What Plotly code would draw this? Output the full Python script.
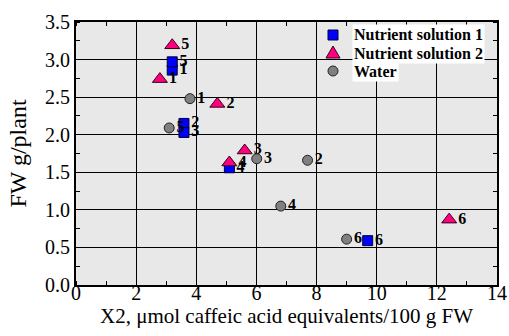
import plotly.graph_objects as go

# Nutrient solution 1
ns1_x = [3.20, 3.59, 3.59, 5.10, 3.20, 9.70]
ns1_y = [2.86, 2.15, 2.03, 1.56, 2.97, 0.59]
ns1_lab = ["1", "2", "3", "4", "5", "6"]

# Nutrient solution 2
ns2_x = [2.79, 4.70, 5.61, 5.10, 3.20, 12.41]
ns2_y = [2.74, 2.41, 1.79, 1.63, 3.19, 0.87]
ns2_lab = ["1", "2", "3", "4", "5", "6"]

# Water
w_x = [3.79, 7.70, 6.01, 6.81, 3.10, 9.00]
w_y = [2.48, 1.66, 1.68, 1.05, 2.09, 0.61]
w_lab = ["1", "2", "3", "4", "5", "6"]

series_names = ["Nutrient solution 1", "Nutrient solution 2", "Water"]
x_ticks = [0, 2, 4, 6, 8, 10, 12, 14]
y_ticks = [0.0, 0.5, 1.0, 1.5, 2.0, 2.5, 3.0, 3.5]

FONT = "Liberation Serif"
txtfont = dict(family=FONT, size=16, color="black", weight="bold")
colors = ["#0000ff", "#ff0080", "#808080"]
edges = ["#000033", "#330011", "#222222"]

fig = go.Figure()
fig.add_trace(go.Scatter(
    x=ns1_x, y=ns1_y, text=ns1_lab, mode="markers+text", name=series_names[0],
    textposition="middle right", textfont=txtfont,
    marker=dict(symbol="square", size=10, color=colors[0], line=dict(color=edges[0], width=1))))
fig.add_trace(go.Scatter(
    x=ns2_x, y=ns2_y, text=ns2_lab, mode="markers+text", name=series_names[1],
    textposition="middle right", textfont=txtfont,
    marker=dict(symbol="triangle-up", size=13, color=colors[1], line=dict(color=edges[1], width=1))))
fig.add_trace(go.Scatter(
    x=w_x, y=w_y, text=w_lab, mode="markers+text", name=series_names[2],
    textposition="middle right", textfont=txtfont,
    marker=dict(symbol="circle", size=10, color=colors[2], line=dict(color=edges[2], width=1))))

# manual legend (plot area: x 76..497 px, y 22..285 px)
leg_rows_y = [(285 - 35) / 263, (285 - 53) / 263, (285 - 71) / 263]
leg_mark_x = (333 - 76) / 421
leg_text_x = (352 - 76) / 421
marker_paths = [
    "M-5,-5 L5,-5 L5,5 L-5,5 Z",
    "M-7,-5 L7,-5 L0,7 Z",
    None,
]
for i, name in enumerate(series_names):
    fig.add_annotation(x=leg_text_x, y=leg_rows_y[i], xref="paper", yref="paper",
                       xanchor="left", yanchor="middle", showarrow=False, text=name,
                       font=dict(family=FONT, size=16, color="black", weight="bold"),
                       bgcolor="white", borderpad=1)
    common = dict(xref="paper", yref="paper", xsizemode="pixel", ysizemode="pixel",
                  xanchor=leg_mark_x, yanchor=leg_rows_y[i], fillcolor=colors[i],
                  line=dict(color=edges[i], width=1), layer="above")
    if marker_paths[i]:
        fig.add_shape(type="path", path=marker_paths[i], **common)
    else:
        fig.add_shape(type="circle", x0=-5, x1=5, y0=-5, y1=5, **common)

axis_common = dict(
    showline=True, linecolor="black", linewidth=2, mirror="allticks",
    showgrid=True, gridcolor="black", gridwidth=1, zeroline=False,
    ticks="", tickfont=dict(family=FONT, size=20, color="black"),
)
fig.update_xaxes(range=[0, 14], tickvals=x_ticks, ticklabelstandoff=-11,
                 minor=dict(dtick=1, ticks="inside", ticklen=4, tickcolor="black", showgrid=False),
                 title=dict(text="X2, μmol caffeic acid equivalents/100 g FW",
                            font=dict(family=FONT, size=21, color="black"), standoff=0),
                 **axis_common)
fig.update_yaxes(range=[0, 3.5], tickvals=y_ticks, tickformat=".1f",
                 minor=dict(dtick=0.25, ticks="inside", ticklen=4, tickcolor="black", showgrid=False),
                 title=dict(text="FW g/plant", font=dict(family=FONT, size=24, color="black"), standoff=12),
                 **axis_common)

fig.update_layout(
    width=509, height=336,
    margin=dict(l=76, r=12, t=22, b=51, autoexpand=False),
    plot_bgcolor="#e8e8e8", paper_bgcolor="white",
    showlegend=False,
)

fig.write_html("out.html", config={"displayModeBar": False},
               post_script="document.body.style.margin='0';document.body.style.overflow='hidden';")
